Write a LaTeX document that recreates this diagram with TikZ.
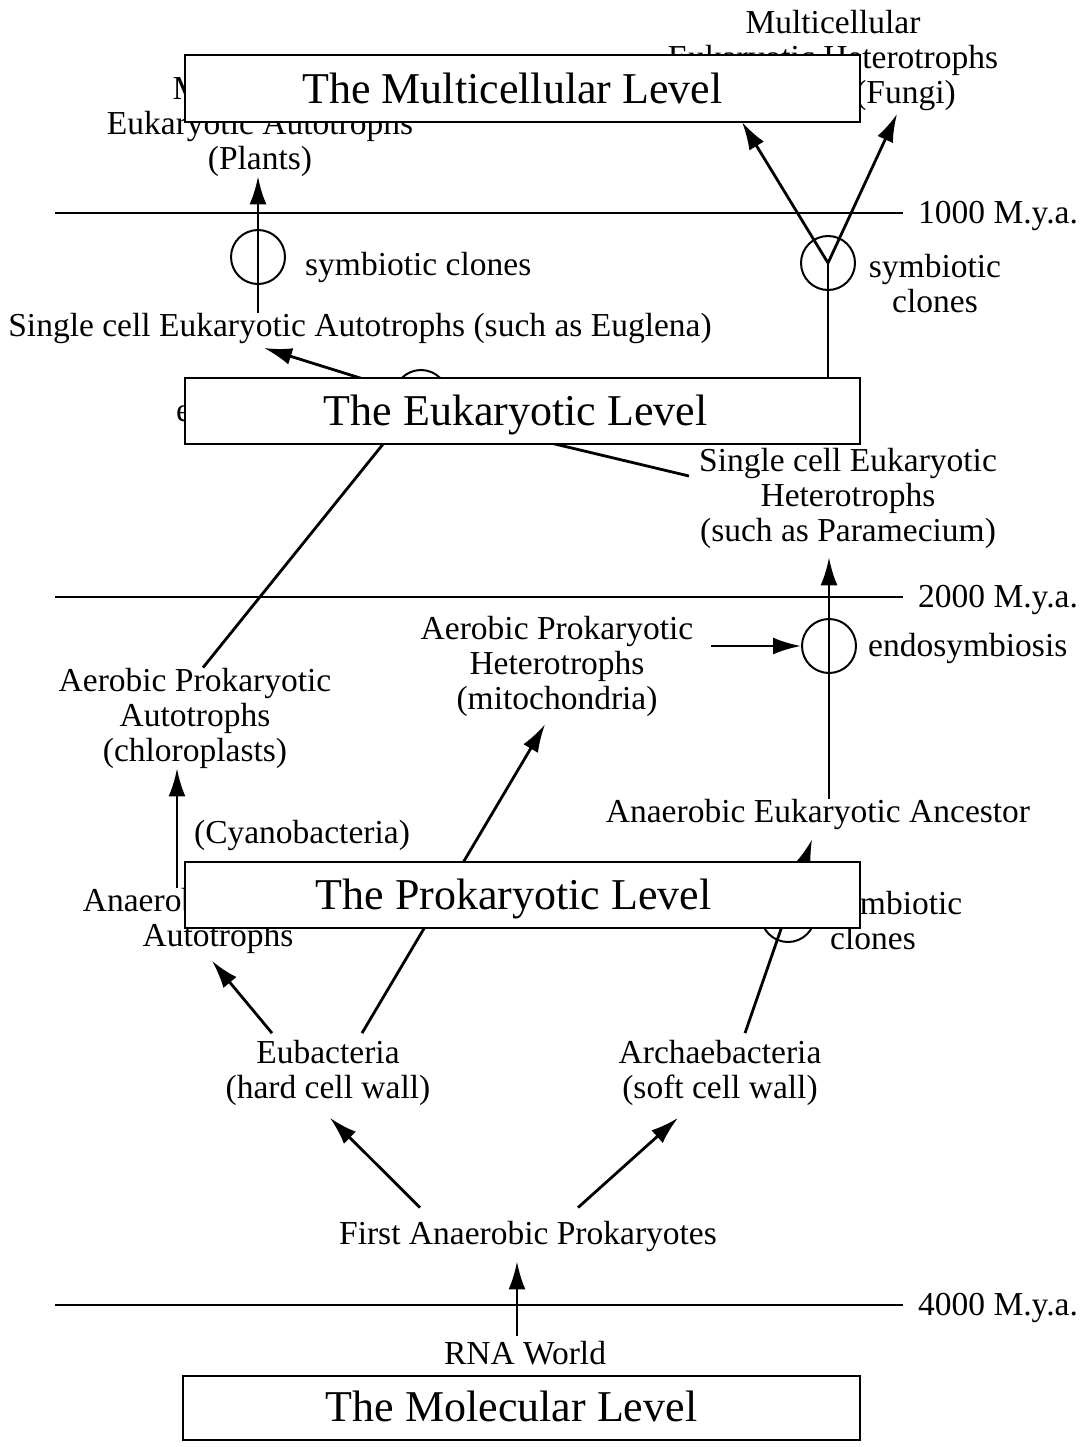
\documentclass[tikz,border=0pt]{standalone}
\usepackage{fontspec}
\setmainfont{Liberation Serif}
\usetikzlibrary{arrows.meta,calc}
\pgfdeclarelayer{bg}
\pgfdeclarelayer{paper}
\pgfsetlayers{paper,bg,main}
\newcommand{\lvltext}[2]{\raisebox{#1}[\height][\depth]{#2}}
\begin{document}
\begin{tikzpicture}[x=1pt,y=-1pt,
  txt/.style={inner sep=0pt, align=center, yshift=-3pt, font=\fontsize{33.5}{35}\selectfont},
  lvl/.style={draw, line width=2.5pt, fill=white, minimum width=675pt, minimum height=66pt, inner sep=0pt, font=\fontsize{44}{48}\selectfont},
  ring/.style={circle, draw, line width=2pt, minimum size=54pt, inner sep=0pt},
  arr/.style={line width=2.8pt, -{Latex[length=28pt,width=17pt]}},
  ln/.style={line width=2.8pt},
  tl/.style={line width=2pt},
  era/.style={txt, anchor=west, inner xsep=15pt}]
\useasboundingbox (0,0) rectangle (1081,1447);
\begin{pgfonlayer}{paper}
\fill[white] (0,0) rectangle (1081,1447);
\end{pgfonlayer}

% text nodes
\node[txt] (plants) at (260,123) {Multicellular\\Eukaryotic Autotrophs\\(Plants)};
\node[txt] (fungi) at (833,57) {Multicellular\\Eukaryotic Heterotrophs\\\hspace*{145pt}(Fungi)};
\node[txt, anchor=west] (sc1) at (305,264) {symbiotic clones};
\node[ring] (c1) at (258,257) {};
\node[txt] (eug) at (360,325) {Single cell Eukaryotic Autotrophs (such as Euglena)};
\node[ring] (c2) at (828,263) {};
\node[txt] (sc2) at (935,281) {symbiotic\\clones};
\node[ring] (cE) at (421,397) {};
\node[txt, anchor=west] (endoE) at (176,410) {endosymbiosis};
\node[txt] (param) at (848,495) {Single cell Eukaryotic\\Heterotrophs\\(such as Paramecium)};
\node[txt] (chloro) at (195,715) {Aerobic Prokaryotic\\Autotrophs\\(chloroplasts)};
\node[txt] (mito) at (557,663) {Aerobic Prokaryotic\\Heterotrophs\\(mitochondria)};
\node[ring] (c3) at (829,646) {};
\node[txt, anchor=west] (endo) at (868,645) {endosymbiosis};
\node[txt] (anc) at (818,811) {Anaerobic Eukaryotic Ancestor};
\node[txt] (cyano) at (302,832) {(Cyanobacteria)};
\node[txt] (anA) at (235,918) {Anaerobic Prokaryotic\\Autotrophs\hspace*{34pt}};
\node[ring] (c4) at (788,915) {};
\node[txt, anchor=west, align=left] (sc4) at (830,918) {symbiotic\\clones};
\node[txt] (eub) at (328,1070) {Eubacteria\\(hard cell wall)};
\node[txt] (arch) at (720,1070) {Archaebacteria\\(soft cell wall)};
\node[txt] (first) at (528,1233) {First Anaerobic Prokaryotes};
\node[txt] (rna) at (525,1350) {RNA World};

% era labels
\node[era] (e1) at (903,213) {1000 M.y.a.};
\node[era] (e2) at (903,597) {2000 M.y.a.};
\node[era] (e4) at (903,1305) {4000 M.y.a.};
\coordinate (s1) at (55,213);
\coordinate (s2) at (55,597);
\coordinate (s4) at (55,1305);

% level boxes
\node[lvl, minimum height=67pt] (bMul) at (522.5,88.5) {\lvltext{0pt}{The Multicellular Level}\hspace*{20pt}};
\node[lvl] (bEuk) at (522.5,411) {\lvltext{-4pt}{The Eukaryotic Level}\hspace*{14pt}};
\node[lvl] (bPro) at (522.5,895) {\lvltext{-4pt}{The Prokaryotic Level}\hspace*{18pt}};
\node[lvl, minimum width=677pt, minimum height=64pt] (bMol) at (521.5,1408) {\lvltext{2pt}{The Molecular Level}\hspace*{20pt}};

\coordinate (tipL) at (742,122);
\coordinate (tipR) at (897,114);
\coordinate (tipEu) at (264,348);

\begin{pgfonlayer}{bg}
\draw[tl] (s1) -- (s1 -| e1.west);
\draw[tl] (s2) -- (s2 -| e2.west);
\draw[tl] (s4) -- (s4 -| e4.west);
% plants
\draw[arr] (c1 |- eug.north) -- (c1 |- plants.south);
% fungi
\draw[ln] (c2 |- bEuk.north) -- (c2.center);
\draw[arr] (c2.center) -- (tipL);
\draw[arr] (c2.center) -- (tipR);
% eukaryotic endosymbiosis
\draw[arr] (cE.center) -- (tipEu);
\draw[ln] ([xshift=8pt]chloro.north) -- (cE.center);
\draw[arr] ($(param.west)+(-10,-22)$) -- (cE.south east);
% prokaryotic
\draw[arr] ([xshift=-58pt]anA.north) -- ([xshift=-58pt]anA.north |- chloro.south);
\draw[arr] ($(eub.north)+(-56,-7)$) -- ($(anA.south)+(-23,7)$);
\draw[arr] ($(eub.north)+(34,-7)$) -- ($(mito.south)+(-12,8)$);
\draw[arr] ($(arch.north)+(25,-7)$) -- ($(anc.south)+(-6,10)$);
\draw[arr] (c3 |- anc.north) -- ($(c3 |- param.south)+(0,9)$);
\draw[arr] ([xshift=18pt]mito.east |- c3.west) -- (c3.west);
\draw[arr] ($(first.north)+(-108,-13)$) -- ($(eub.south)+(2,12)$);
\draw[arr] ($(first.north)+(50,-13)$) -- ($(arch.south)+(-42,12)$);
\draw[arr] ($(rna.north)+(-8,-5)$) -- ($(first.south)+(-11,10)$);
\end{pgfonlayer}
\end{tikzpicture}
\end{document}
